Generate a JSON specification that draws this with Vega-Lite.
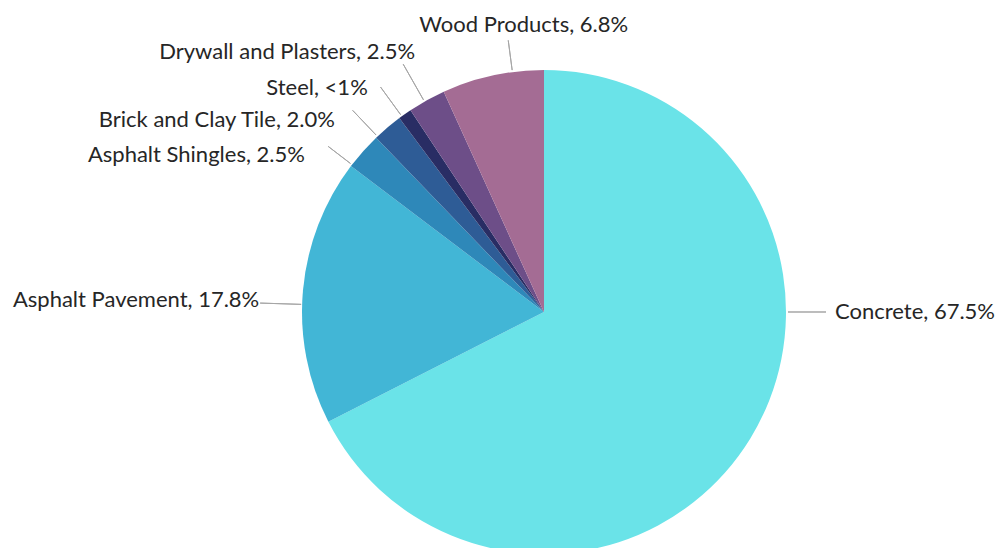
{
  "$schema": "https://vega.github.io/schema/vega-lite/v6.json",
  "width": 906,
  "height": 472,
  "autosize": "none",
  "padding": {"left": 91, "top": 76, "right": 0, "bottom": 0},
  "background": "white",
  "view": {"stroke": null},
  "data": {
    "values": [
      {"category": "Concrete", "value": 67.5, "order": 1, "label": "Concrete, 67.5%"},
      {"category": "Asphalt Pavement", "value": 17.8, "order": 2, "label": "Asphalt Pavement, 17.8%"},
      {"category": "Asphalt Shingles", "value": 2.5, "order": 3, "label": "Asphalt Shingles, 2.5%"},
      {"category": "Brick and Clay Tile", "value": 2.0, "order": 4, "label": "Brick and Clay Tile, 2.0%"},
      {"category": "Steel", "value": 0.9, "order": 5, "label": "Steel, <1%"},
      {"category": "Drywall and Plasters", "value": 2.5, "order": 6, "label": "Drywall and Plasters, 2.5%"},
      {"category": "Wood Products", "value": 6.8, "order": 7, "label": "Wood Products, 6.8%"}
    ]
  },
  "encoding": {
    "theta": {"field": "value", "type": "quantitative", "stack": true},
    "order": {"field": "order", "type": "quantitative", "sort": "ascending"},
    "detail": {"field": "category", "type": "nominal"}
  },
  "layer": [
    {
      "mark": {"type": "arc", "radius": 242, "stroke": null},
      "encoding": {
        "color": {
          "field": "category",
          "type": "nominal",
          "legend": null,
          "scale": {
            "domain": ["Concrete", "Asphalt Pavement", "Asphalt Shingles", "Brick and Clay Tile", "Steel", "Drywall and Plasters", "Wood Products"],
            "range": ["#6AE3E8", "#42B6D6", "#2E88B9", "#2E5C96", "#292D64", "#6D4E88", "#A46C94"]
          }
        }
      }
    },
    {
      "transform": [
        {"stack": "value", "groupby": [], "sort": [{"field": "order", "order": "ascending"}], "as": ["v0", "v1"]}
      ],
      "layer": [
        {
          "mark": {"type": "arc", "radius": 282, "radius2": 244, "thetaOffset": 1.5708, "theta2Offset": -2.6704, "filled": false, "color": "#A6A6A6", "strokeWidth": 1},
          "encoding": {"strokeOpacity": {"condition": {"test": "datum.category === 'Concrete'", "value": 1}, "value": 0}}
        },
        {
          "mark": {"type": "arc", "radius": 284, "radius2": 243, "thetaOffset": 0.5027, "theta2Offset": -0.6158, "filled": false, "color": "#A6A6A6", "strokeWidth": 1},
          "encoding": {"strokeOpacity": {"condition": {"test": "datum.category === 'Asphalt Pavement'", "value": 1}, "value": 0}}
        },
        {
          "mark": {"type": "arc", "radius": 272, "radius2": 244, "thetaOffset": 0.0073, "theta2Offset": -0.1497, "filled": false, "color": "#A6A6A6", "strokeWidth": 1},
          "encoding": {"strokeOpacity": {"condition": {"test": "datum.category === 'Asphalt Shingles'", "value": 1}, "value": 0}}
        },
        {
          "mark": {"type": "arc", "radius": 278, "radius2": 244, "thetaOffset": 0.0073, "theta2Offset": -0.1183, "filled": false, "color": "#A6A6A6", "strokeWidth": 1},
          "encoding": {"strokeOpacity": {"condition": {"test": "datum.category === 'Brick and Clay Tile'", "value": 1}, "value": 0}}
        },
        {
          "mark": {"type": "arc", "radius": 278, "radius2": 244, "thetaOffset": 0.0126, "theta2Offset": -0.0440, "filled": false, "color": "#A6A6A6", "strokeWidth": 1},
          "encoding": {"strokeOpacity": {"condition": {"test": "datum.category === 'Steel'", "value": 1}, "value": 0}}
        },
        {
          "mark": {"type": "arc", "radius": 285, "radius2": 244, "thetaOffset": 0.0677, "theta2Offset": -0.0894, "filled": false, "color": "#A6A6A6", "strokeWidth": 1},
          "encoding": {"strokeOpacity": {"condition": {"test": "datum.category === 'Drywall and Plasters'", "value": 1}, "value": 0}}
        },
        {
          "mark": {"type": "arc", "radius": 274, "radius2": 244, "thetaOffset": 0.2964, "theta2Offset": -0.1309, "filled": false, "color": "#A6A6A6", "strokeWidth": 1},
          "encoding": {"strokeOpacity": {"condition": {"test": "datum.category === 'Wood Products'", "value": 1}, "value": 0}}
        }
      ],
      "encoding": {
        "theta": {"field": "v0", "type": "quantitative", "stack": null},
        "theta2": {"field": "v1"}
      }
    },
    {
      "mark": {"type": "text", "radius": 291, "thetaOffset": -0.550, "align": "left", "baseline": "middle", "font": "Lato", "fontSize": 22, "color": "#262626"},
      "encoding": {"text": {"condition": {"test": "datum.category === 'Concrete'", "field": "label"}, "value": ""}}
    },
    {
      "mark": {"type": "text", "radius": 285, "thetaOffset": -0.046, "align": "right", "baseline": "middle", "font": "Lato", "fontSize": 22, "color": "#262626"},
      "encoding": {"text": {"condition": {"test": "datum.category === 'Asphalt Pavement'", "field": "label"}, "value": ""}}
    },
    {
      "mark": {"type": "text", "radius": 286, "thetaOffset": -0.145, "align": "right", "baseline": "middle", "font": "Lato", "fontSize": 22, "color": "#262626"},
      "encoding": {"text": {"condition": {"test": "datum.category === 'Asphalt Shingles'", "field": "label"}, "value": ""}}
    },
    {
      "mark": {"type": "text", "radius": 284, "thetaOffset": -0.124, "align": "right", "baseline": "middle", "font": "Lato", "fontSize": 22, "color": "#262626"},
      "encoding": {"text": {"condition": {"test": "datum.category === 'Brick and Clay Tile'", "field": "label"}, "value": ""}}
    },
    {
      "mark": {"type": "text", "radius": 285, "thetaOffset": -0.054, "align": "right", "baseline": "middle", "font": "Lato", "fontSize": 22, "color": "#262626"},
      "encoding": {"text": {"condition": {"test": "datum.category === 'Steel'", "field": "label"}, "value": ""}}
    },
    {
      "mark": {"type": "text", "radius": 290, "thetaOffset": 0.045, "align": "right", "baseline": "middle", "font": "Lato", "fontSize": 22, "color": "#262626"},
      "encoding": {"text": {"condition": {"test": "datum.category === 'Drywall and Plasters'", "field": "label"}, "value": ""}}
    },
    {
      "mark": {"type": "text", "radius": 288, "thetaOffset": 0.143, "align": "center", "baseline": "middle", "font": "Lato", "fontSize": 22, "color": "#262626"},
      "encoding": {"text": {"condition": {"test": "datum.category === 'Wood Products'", "field": "label"}, "value": ""}}
    }
  ]
}
